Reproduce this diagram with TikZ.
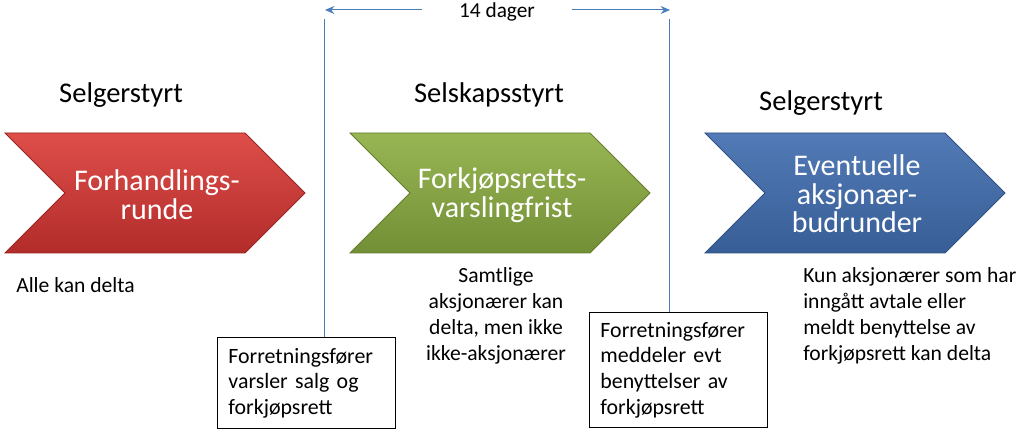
\documentclass[tikz,border=0pt]{standalone}
\usepackage{fontspec}
\setmainfont{Carlito}
\usetikzlibrary{arrows.meta}
\definecolor{redT}{RGB}{222,78,74}
\definecolor{redB}{RGB}{178,44,42}
\definecolor{redD}{RGB}{150,35,35}
\definecolor{grnT}{RGB}{152,182,84}
\definecolor{grnB}{RGB}{115,143,54}
\definecolor{grnD}{RGB}{100,125,45}
\definecolor{bluT}{RGB}{82,122,182}
\definecolor{bluB}{RGB}{55,94,150}
\definecolor{bluD}{RGB}{45,80,130}
\definecolor{lineblue}{RGB}{74,126,187}
\tikzset{
  chevshape/.style={line width=0.6pt},
  chevtext/.style={text=white, align=center, inner sep=0pt, font=\fontsize{22.5}{21.5}\selectfont},
  title/.style={font=\fontsize{21.4}{24}\selectfont, inner sep=0pt},
  small/.style={font=\fontsize{16.2}{19.5}\selectfont, inner sep=0pt},
  infobox/.style={draw=black, line width=0.7pt, text width=117pt, inner xsep=8.25pt, inner ysep=0pt,
    align=left, font=\fontsize{16.4}{19.2}\selectfont, anchor=north west},
  vline/.style={draw=lineblue, line width=0.75pt},
  harrow/.style={draw=lineblue, line width=0.75pt, -{Stealth[length=7pt,width=6pt]}}
}
\newcommand{\chevpath}[1]{(#1,133) -- ++(240,0) -- ++(60,60) -- ++(-60,60) -- ++(-240,0) -- ++(60,-60) -- cycle}
\begin{document}
\begin{tikzpicture}[x=0.75pt,y=-0.75pt]
\useasboundingbox (0,0) rectangle (1024,438);
% titles
\node[title] (t1) at (121,95) {Selgerstyrt};
\node[title] (t2) at (489,95) {Selskapsstyrt};
\node[title] (t3) at (821,103) {Selgerstyrt};
% chevrons
\path[chevshape, top color=redT, bottom color=redB, draw=redD] \chevpath{5};
\path[chevshape, top color=grnT, bottom color=grnB, draw=grnD] \chevpath{350};
\path[chevshape, top color=bluT, bottom color=bluB, draw=bluD] \chevpath{705};
\node[chevtext] (c1) at (157,195) {Forhandlings-\\runde};
\node[chevtext] (c2) at (502,195) {Forkjøpsretts-\\varslingfrist};
\node[chevtext] (c3) at (857,194) {Eventuelle\\aksjonær-\\budrunder};
% lower texts
\node[small, anchor=west] (d1) at (16,285) {Alle kan delta};
\node[small, align=center] (d2) at (496,316) {Samtlige\\aksjonærer kan\\delta, men ikke\\ikke-aksjonærer};
\node[small, align=left, anchor=west] (d3) at (803,316) {Kun aksjonærer som har\\inngått avtale eller\\meldt benyttelse av\\forkjøpsrett kan delta};
% boxes
\node[infobox, minimum height=68.25pt] (b1) at (217,337) {Forretningsfører\\varsler salg og\\forkjøpsrett};
\node[infobox, minimum height=86.5pt] (b2) at (589,312) {Forretningsfører\\meddeler evt\\benyttelser av\\forkjøpsrett};
% 14 days marker
\node[small, font=\fontsize{16}{18}\selectfont] (dg) at (497,12) {14 dager};
\coordinate (ltop) at (324,19);
\coordinate (rtop) at (669,19);
\coordinate (lhead) at (325,10);
\coordinate (rhead) at (670,10);
\coordinate (lstart) at (422,10);
\coordinate (rstart) at (572,10);
\draw[vline] (ltop) -- (ltop |- b1.north);
\draw[vline] (rtop) -- (rtop |- b2.north);
\draw[harrow] (lstart) -- (lhead);
\draw[harrow] (rstart) -- (rhead);
\end{tikzpicture}
\end{document}
